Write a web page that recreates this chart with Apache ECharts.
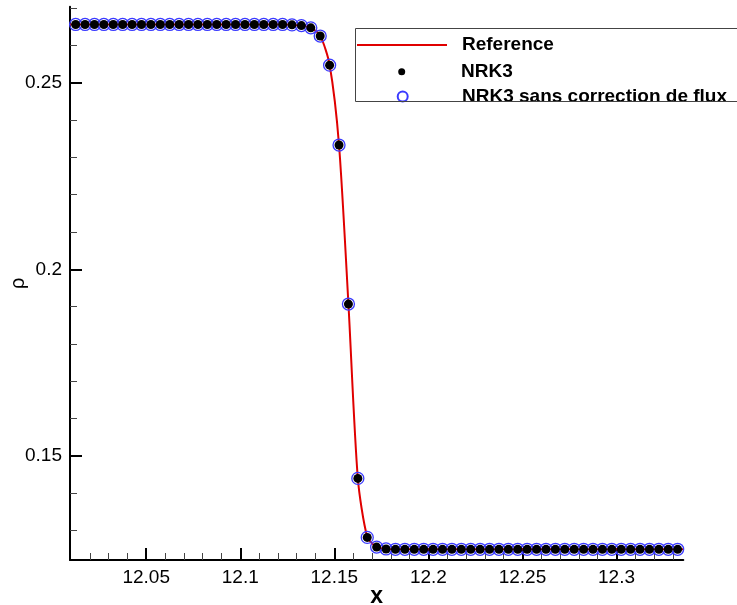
<!DOCTYPE html>
<html>
<head>
<meta charset="utf-8">
<script src="https://cdn.jsdelivr.net/npm/echarts@6/dist/echarts.min.js"></script>
<style>html,body{margin:0;padding:0;background:#fff;}#c{width:737px;height:605px;}</style>
</head>
<body>
<div id="c"></div>
<script>
// ---- data ----
const xPoints = [12.0125, 12.0175, 12.0225, 12.0275, 12.0325, 12.0375, 12.0425, 12.0475, 12.0525, 12.0575,
  12.0625, 12.0675, 12.0725, 12.0775, 12.0825, 12.0875, 12.0925, 12.0975, 12.1025, 12.1075,
  12.1125, 12.1175, 12.1225, 12.1275, 12.1325, 12.1375, 12.1425, 12.1475, 12.1525, 12.1575,
  12.1625, 12.1675, 12.1725, 12.1775, 12.1825, 12.1875, 12.1925, 12.1975, 12.2025, 12.2075,
  12.2125, 12.2175, 12.2225, 12.2275, 12.2325, 12.2375, 12.2425, 12.2475, 12.2525, 12.2575,
  12.2625, 12.2675, 12.2725, 12.2775, 12.2825, 12.2875, 12.2925, 12.2975, 12.3025, 12.3075,
  12.3125, 12.3175, 12.3225, 12.3275, 12.3325];
const nrk3 = [0.2656, 0.2656, 0.2656, 0.2656, 0.2656, 0.2656, 0.2656, 0.2656, 0.2656, 0.2656,
  0.2656, 0.2656, 0.2656, 0.2656, 0.2656, 0.2656, 0.2656, 0.2656, 0.2656, 0.2656,
  0.2656, 0.2656, 0.2656, 0.2655, 0.2653, 0.2647, 0.2625, 0.2547, 0.2333, 0.1907,
  0.1440, 0.1282, 0.1256, 0.1251, 0.1250, 0.1250, 0.1250, 0.1250, 0.1250, 0.1250,
  0.1250, 0.1250, 0.1250, 0.1250, 0.1250, 0.1250, 0.1250, 0.1250, 0.1250, 0.1250,
  0.1250, 0.1250, 0.1250, 0.1250, 0.1250, 0.1250, 0.1250, 0.1250, 0.1250, 0.1250,
  0.1250, 0.1250, 0.1250, 0.1250, 0.1250];
const nrk3NoCorr = [0.2656, 0.2656, 0.2656, 0.2656, 0.2656, 0.2656, 0.2656, 0.2656, 0.2656, 0.2656,
  0.2656, 0.2656, 0.2656, 0.2656, 0.2656, 0.2656, 0.2656, 0.2656, 0.2656, 0.2656,
  0.2656, 0.2656, 0.2656, 0.2655, 0.2653, 0.2647, 0.2625, 0.2547, 0.2333, 0.1907,
  0.1440, 0.1282, 0.1256, 0.1251, 0.1250, 0.1250, 0.1250, 0.1250, 0.1250, 0.1250,
  0.1250, 0.1250, 0.1250, 0.1250, 0.1250, 0.1250, 0.1250, 0.1250, 0.1250, 0.1250,
  0.1250, 0.1250, 0.1250, 0.1250, 0.1250, 0.1250, 0.1250, 0.1250, 0.1250, 0.1250,
  0.1250, 0.1250, 0.1250, 0.1250, 0.1250];
const refX = [12.0095, 12.1225, 12.1275, 12.1325, 12.1375, 12.1425, 12.1475, 12.1525, 12.1575,
  12.1625, 12.1675, 12.1725, 12.1775, 12.1825, 12.3355];
const refY = [0.2656, 0.2656, 0.2655, 0.2653, 0.2647, 0.2626, 0.2548, 0.2333, 0.1907,
  0.1440, 0.1283, 0.1256, 0.1251, 0.1250, 0.1250];
const xMajorTicks = [12.05, 12.1, 12.15, 12.2, 12.25, 12.3];
const xMinorTicks = [12.02, 12.03, 12.04, 12.06, 12.07, 12.08, 12.09, 12.11, 12.12, 12.13, 12.14,
  12.16, 12.17, 12.18, 12.19, 12.21, 12.22, 12.23, 12.24, 12.26, 12.27, 12.28, 12.29,
  12.31, 12.32, 12.33];
const yMajorTicks = [0.15, 0.2, 0.25];
const yMinorTicks = [0.13, 0.14, 0.16, 0.17, 0.18, 0.19, 0.21, 0.22, 0.23, 0.24, 0.26, 0.27];
const xRange = [12.0095, 12.3355];
const yRange = [0.12214, 0.27036];
const seriesNames = ['Reference', 'NRK3', 'NRK3 sans correction de flux'];

const zip = (a, b) => a.map((v, i) => [v, b[i]]);
const FONT = '"Liberation Sans", Arial, sans-serif';

const chart = echarts.init(document.getElementById('c'), null, {renderer: 'canvas'});
const legendText = (pad) => ({fontFamily: FONT, fontWeight: 'bold', fontSize: 19, color: '#000', lineHeight: 20, padding: [0, 0, 0, pad]});
chart.setOption({
  animation: false,
  backgroundColor: '#fff',
  grid: {left: 70, right: 53.7, top: 6.7, bottom: 45, containLabel: false, outerBoundsMode: 'none'},
  xAxis: [{
    type: 'value', min: xRange[0], max: xRange[1],
    name: 'x', nameLocation: 'middle', nameGap: 25, nameMoveOverlap: false,
    nameTextStyle: {fontFamily: FONT, fontWeight: 'bold', fontSize: 23, color: '#000'},
    axisLine: {show: true, lineStyle: {color: '#000', width: 2}},
    axisTick: {show: true, inside: true, length: 12, lineStyle: {color: '#000', width: 2}, customValues: xMajorTicks},
    axisLabel: {show: true, margin: 8, fontFamily: FONT, fontSize: 19, color: '#000', customValues: xMajorTicks,
      formatter: v => String(+v.toFixed(3))},
    splitLine: {show: false}
  }, {
    type: 'value', min: xRange[0], max: xRange[1], position: 'bottom',
    axisLine: {show: false},
    axisTick: {show: true, inside: true, length: 7, lineStyle: {color: '#444', width: 1}, customValues: xMinorTicks},
    axisLabel: {show: false},
    splitLine: {show: false}
  }],
  yAxis: [{
    type: 'value', min: yRange[0], max: yRange[1],
    name: 'ρ', nameLocation: 'middle', nameGap: 42, nameRotate: 90, nameMoveOverlap: false,
    nameTextStyle: {fontFamily: FONT, fontSize: 20, color: '#000'},
    axisLine: {show: true, lineStyle: {color: '#000', width: 2}},
    axisTick: {show: true, inside: true, length: 12, lineStyle: {color: '#000', width: 2}, customValues: yMajorTicks},
    axisLabel: {show: true, margin: 8, fontFamily: FONT, fontSize: 19, color: '#000', customValues: yMajorTicks,
      formatter: v => String(+v.toFixed(3))},
    splitLine: {show: false}
  }, {
    type: 'value', min: yRange[0], max: yRange[1], position: 'left',
    axisLine: {show: false},
    axisTick: {show: true, inside: true, length: 7, lineStyle: {color: '#444', width: 1}, customValues: yMinorTicks},
    axisLabel: {show: false},
    splitLine: {show: false}
  }],
  legend: [
    {data: [{name: seriesNames[0], itemStyle: {opacity: 0}}], orient: 'vertical', left: 356, top: 35, padding: 0, itemWidth: 90, itemHeight: 14,
      textStyle: legendText(10), selectedMode: false},
    {data: [seriesNames[1]], orient: 'vertical', left: 398.2, top: 61.7, padding: 0, itemWidth: 7, itemHeight: 7,
      textStyle: legendText(50.8), selectedMode: false},
    {data: [seriesNames[2]], orient: 'vertical', left: 396.7, top: 86.5, padding: 0, itemWidth: 10, itemHeight: 10,
      textStyle: legendText(49.3), selectedMode: false}
  ],
  graphic: [{
    type: 'rect', z: 100, silent: true,
    shape: {x: 355.5, y: 28.5, width: 420, height: 73},
    style: {fill: 'rgba(255,255,255,0)', stroke: '#444', lineWidth: 1}
  }],
  series: [
    {name: seriesNames[0], type: 'line', data: zip(refX, refY), symbol: 'none', showSymbol: false,
      smooth: 0.25, lineStyle: {color: '#e00000', width: 2}, itemStyle: {color: '#e00000'}, z: 2},
    {name: seriesNames[1], type: 'scatter', data: zip(xPoints, nrk3), symbol: 'circle', symbolSize: 9,
      itemStyle: {color: '#000', opacity: 1}, z: 4},
    {name: seriesNames[2], type: 'scatter', data: zip(xPoints, nrk3NoCorr), symbol: 'circle', symbolSize: 12,
      itemStyle: {color: 'rgba(0,0,0,0)', borderColor: '#3a3aff', borderWidth: 1.3, opacity: 1}, z: 3}
  ]
});
</script>
</body>
</html>
